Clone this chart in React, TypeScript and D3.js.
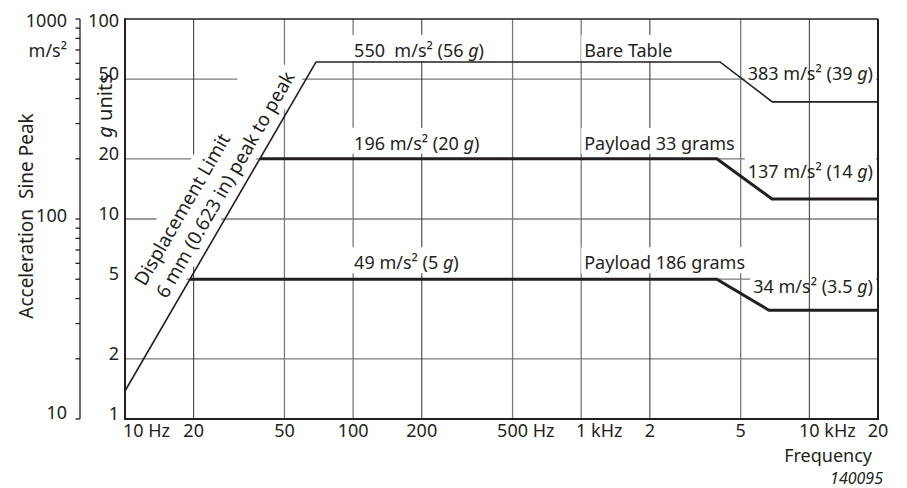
import React, { useEffect, useRef } from 'react';
import * as d3 from 'd3';

const W = 907;
const H = 488;
const FONT = "'Noto Sans', 'Open Sans', sans-serif";

// grid and tick values
const freqGrid = [20, 50, 100, 200, 500, 1000, 2000, 5000, 10000];
const freqGridDark = [20, 200, 2000, 10000];
const gGrid = [2, 5, 10, 20, 50];
const gTickValues = [1, 2, 5, 10, 20, 50, 100];
const msMajor = [10, 100, 1000];
const msMinor = [20, 30, 40, 50, 60, 70, 80, 90, 200, 300, 400, 500, 600, 700, 800, 900];
const freqTickValues = [10, 20, 50, 100, 200, 500, 1000, 2000, 5000, 10000, 20000];
const freqTickNumbers = ['10', '20', '50', '100', '200', '500', '1', '2', '5', '10', '20'];
const freqTickUnits = [' Hz', '', '', '', '', ' Hz', ' kHz', '', '', ' kHz', ''];

// series (frequency in Hz, acceleration in g)
const dispFreq = [10, 68.8];
const dispG = [1.38, 61];
const bareFreq = [68.8, 4060, 6880, 20000];
const bareG = [61, 61, 38.5, 38.5];
const p33Freq = [39, 3930, 6860, 20000];
const p33G = [20, 20, 12.6, 12.6];
const p186Freq = [19.25, 3930, 6650, 20000];
const p186G = [5, 5, 3.5, 3.5];

// annotation texts
const leftLabelTexts = [['550  m/s² (56 ', 'g', ')'], ['196 m/s² (20 ', 'g', ')'], ['49 m/s² (5 ', 'g', ')']];
const midLabelTexts = ['Bare Table', 'Payload 33 grams', 'Payload 186 grams'];
const rightLabelTexts = [['383 m/s² (39 ', 'g', ')'], ['137 m/s² (14 ', 'g', ')'], ['34 m/s² (3.5 ', 'g', ')']];

export default function App() {
  const ref = useRef<SVGSVGElement>(null);

  useEffect(() => {
    const svg = d3.select(ref.current);
    svg.selectAll('*').remove();
    const ink = '#231f20';
    const gridGray = '#7a7a7a';

    const x = d3.scaleLog().domain([10, 20000]).range([125, 878]);
    const y = d3.scaleLog().domain([1, 100]).range([419, 19]);
    const yMs = d3.scaleLog().domain([10, 1000]).range([419, 19]);
    const x0 = x(10), x1 = x(20000), y0 = y(1), y1 = y(100);

    const gridH = svg.append('g');
    const gridV = svg.append('g');
    const boxes = svg.append('g');
    const gridTop = svg.append('g');
    const lines = svg.append('g');
    const texts = svg.append('g').attr('font-family', FONT).attr('fill', ink).attr('font-size', 18);

    gGrid.forEach((v) => {
      gridH.append('line').attr('x1', x0).attr('x2', x1).attr('y1', y(v)).attr('y2', y(v))
        .attr('stroke', gridGray).attr('stroke-width', 1.3);
    });
    freqGrid.forEach((f) => {
      const dark = freqGridDark.includes(f);
      const target = f === 10000 ? gridTop : gridV;
      target.append('line').attr('x1', x(f)).attr('x2', x(f)).attr('y1', y1).attr('y2', y0)
        .attr('stroke', dark ? '#333' : gridGray).attr('stroke-width', dark ? 1 : 1.3);
    });

    const addText = (parent: any, parts: string[], px: number, py: number, anchor: string, box: boolean) => {
      const t = parent.append('text').attr('x', px).attr('y', py).attr('text-anchor', anchor)
        .style('white-space', 'pre');
      parts.forEach((p, i) => {
        const ts = t.append('tspan').text(p);
        if (parts.length === 3 && i === 1) ts.attr('font-style', 'italic');
      });
      if (box) {
        const bb = (t.node() as SVGTextElement).getBBox();
        boxes.append('rect').attr('x', bb.x - 3).attr('y', py - 22).attr('width', bb.width + 6)
          .attr('height', 26).attr('fill', '#fff');
      }
      return t;
    };

    // left plateau labels
    const leftG = [bareG[1], p33G[1], p186G[1]];
    const leftDy = [-5, -9, -10];
    leftLabelTexts.forEach((parts, i) => addText(texts, parts, x(100) + 1, y(leftG[i]) + leftDy[i], 'start', true));
    // middle labels
    const midDy = [-5, -9, -10];
    midLabelTexts.forEach((s, i) => addText(texts, [s], x(1000) + 3, y(leftG[i]) + midDy[i], 'start', true));
    // right labels
    const rightG = [bareG[3], p33G[3], p186G[3]];
    const rightDy = [-22, -21, -17];
    rightLabelTexts.forEach((parts, i) => addText(texts, parts, x1 - 5, y(rightG[i]) + rightDy[i], 'end', true));

    // diagonal annotation
    const diag = svg.insert('g', () => gridTop.node()).attr('transform', 'translate(145,287) rotate(-60)');
    diag.append('rect').attr('x', -4).attr('y', -24).attr('width', 266).attr('height', 56).attr('fill', '#fff');
    const diagT = texts.append('g').attr('transform', 'translate(145,287) rotate(-60)').attr('font-size', 19);
    diagT.append('text').attr('x', 0).attr('y', 0).text('Displacement Limit');
    diagT.append('text').attr('x', 0).attr('y', 25).text('6 mm (0.623 in) peak to peak');

    // data lines
    const lineGen = d3.line<[number, number]>().x((d) => x(d[0])).y((d) => y(d[1]));
    const series: [number[], number[], number][] = [
      [dispFreq, dispG, 1.6],
      [bareFreq, bareG, 1.6],
      [p33Freq, p33G, 3],
      [p186Freq, p186G, 3],
    ];
    series.forEach(([fs, gs, w]) => {
      lines.append('path').attr('d', lineGen(fs.map((f, i) => [f, gs[i]] as [number, number])) as string)
        .attr('fill', 'none').attr('stroke', ink).attr('stroke-width', w).attr('stroke-linejoin', 'miter');
    });

    // frame
    const frame = svg.append('g').attr('stroke', ink).attr('fill', 'none');
    frame.append('line').attr('x1', x0).attr('x2', x1).attr('y1', y1).attr('y2', y1).attr('stroke-width', 1.6);
    frame.append('line').attr('x1', x1).attr('x2', x1).attr('y1', y1).attr('y2', y0).attr('stroke-width', 2);
    frame.append('line').attr('x1', x0).attr('x2', x0).attr('y1', y1 - 0.8).attr('y2', y0 + 1).attr('stroke-width', 2);
    frame.append('line').attr('x1', x0 - 1).attr('x2', x1 + 1).attr('y1', y0).attr('y2', y0).attr('stroke-width', 2);

    // g axis labels
    gTickValues.forEach((v) => {
      const by = v === 100 ? y(v) + 8 : y(v) + 1;
      texts.append('text').attr('x', 119).attr('y', by).attr('text-anchor', 'end').text(String(v));
    });

    // m/s² axis
    const msAxisX = 80;
    frame.append('line').attr('x1', msAxisX).attr('x2', msAxisX).attr('y1', yMs(1000)).attr('y2', yMs(10)).attr('stroke-width', 1.3);
    msMajor.concat(msMinor).forEach((v) => {
      frame.append('line').attr('x1', msAxisX - 4.5).attr('x2', msAxisX).attr('y1', yMs(v)).attr('y2', yMs(v)).attr('stroke-width', 1.3);
    });
    msMajor.forEach((v) => {
      const by = v === 1000 ? yMs(v) + 8 : v === 10 ? yMs(v) : yMs(v) + 3;
      texts.append('text').attr('x', 67).attr('y', by).attr('text-anchor', 'end').text(String(v));
    });
    texts.append('text').attr('x', 67).attr('y', 57).attr('text-anchor', 'end').text('m/s²');

    // axis titles
    texts.append('text').attr('transform', 'translate(33,216) rotate(-90)').attr('text-anchor', 'middle')
      .attr('font-size', 19).style('white-space', 'pre').text('Acceleration  Sine Peak');
    const gu = texts.append('text').attr('transform', 'translate(112,106) rotate(-90)').attr('text-anchor', 'middle')
      .attr('font-size', 20).style('white-space', 'pre');
    gu.append('tspan').attr('font-style', 'italic').text('g');
    gu.append('tspan').text(' units');

    // frequency tick labels
    const charW = 18 * 0.572;
    freqTickValues.forEach((f, i) => {
      const num = freqTickNumbers[i];
      const unit = freqTickUnits[i];
      const half = (num.length * charW) / 2;
      const startX = f === 10 ? x(f) - 2 : x(f) - half;
      texts.append('text').attr('x', startX).attr('y', 437).attr('text-anchor', 'start')
        .style('white-space', 'pre').text(num + unit);
    });
    texts.append('text').attr('x', 872).attr('y', 462).attr('text-anchor', 'end').text('Frequency');
    texts.append('text').attr('x', 883).attr('y', 484).attr('text-anchor', 'end').attr('font-style', 'italic')
      .attr('font-size', 16).text('140095');
  }, []);

  return (
    <svg ref={ref} width={W} height={H}
      style={{ position: 'absolute', left: 0, top: 0, display: 'block', background: '#fff' }} />
  );
}
